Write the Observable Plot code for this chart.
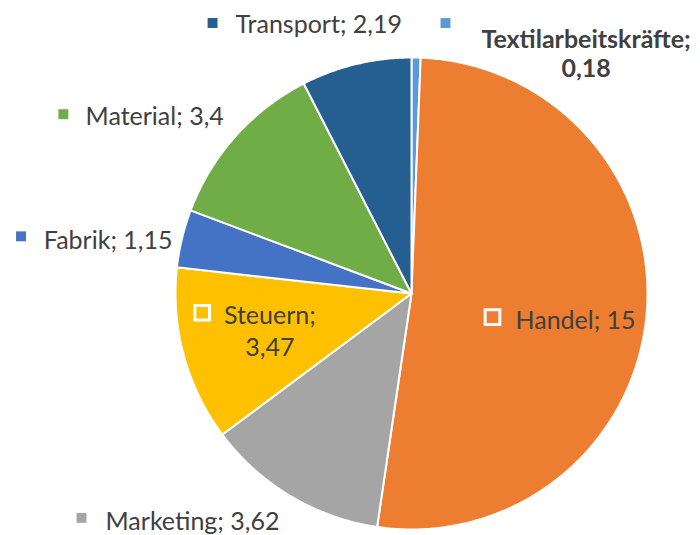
<!DOCTYPE html>
<html>
<head>
<meta charset="utf-8">
<script src="https://cdn.jsdelivr.net/npm/d3@7"></script>
<script src="https://cdn.jsdelivr.net/npm/@observablehq/plot@0.6"></script>
<style>
  html, body { margin: 0; padding: 0; background: #fff; }
  #chart svg { display: block; }
</style>
</head>
<body>
<div id="chart"></div>
<script>
// ---- data ----
const categories = ["Textilarbeitskräfte", "Handel", "Marketing", "Steuern", "Fabrik", "Material", "Transport"];
const values     = [0.18, 15, 3.62, 3.47, 1.15, 3.4, 2.19];
const valueLabels = ["0,18", "15", "3,62", "3,47", "1,15", "3,4", "2,19"];
const colors     = ["#5B9BD5", "#ED7D31", "#A5A5A5", "#FFC000", "#4472C4", "#70AD47", "#255E91"];

// ---- label layout (radius fraction of anchor, pixel offsets of marker and text) ----
const labelLayout = {
  "Textilarbeitskräfte": {r: 1.0, mdx: 29.4, mdy: -34.5, tdx: 170, tdy: -4.5, anchor: "middle", bold: true, lh: 1.16, text: "Textilarbeitskräfte;\n0,18"},
  "Handel":    {r: 0.6, mdx: -60, mdy: 10.6, tdx: -37, tdy: 12.6, anchor: "start", inside: true},
  "Marketing": {r: 1.0, mdx: -209, mdy: 21.7, tdx: -185, tdy: 24, anchor: "start"},
  "Steuern":   {r: 0.6, mdx: -72.6, mdy: -17.8, tdx: -5, tdy: -0.6, anchor: "middle", inside: true, lh: 1.26, text: "Steuern;\n3,47"},
  "Fabrik":    {r: 1.0, mdx: -161, mdy: -2.1, tdx: -138.2, tdy: 0.6, anchor: "start"},
  "Material":  {r: 1.0, mdx: -172, mdy: -22.2, tdx: -149.8, tdy: -20.8, anchor: "start"},
  "Transport": {r: 1.0, mdx: -143.5, mdy: -41.1, tdx: -120.5, tdy: -41, anchor: "start"}
};

// ---- geometry derived from values ----
const total = d3.sum(values);
let acc = 0;
const slices = categories.map((name, i) => {
  const a0 = acc / total * 2 * Math.PI;
  acc += values[i];
  const a1 = acc / total * 2 * Math.PI;
  return {name, value: values[i], label: valueLabels[i], color: colors[i], a0, a1, mid: (a0 + a1) / 2};
});

const polys = [];
for (const s of slices) {
  polys.push({name: s.name, x: 0, y: 0});
  const n = Math.max(2, Math.ceil((s.a1 - s.a0) / (Math.PI / 360)));
  for (let k = 0; k <= n; k++) {
    const a = s.a0 + (s.a1 - s.a0) * k / n;
    polys.push({name: s.name, x: Math.sin(a), y: Math.cos(a)});
  }
  polys.push({name: s.name, x: 0, y: 0});
}

const labels = slices.map(s => {
  const L = labelLayout[s.name];
  return {...s, ...L, x: L.r * Math.sin(s.mid), y: L.r * Math.cos(s.mid),
          txt: L.text || (s.name + "; " + s.label)};
});

const FONT = "Lato, 'Open Sans', sans-serif";
const FS = 25;

const marks = [
  Plot.line(polys, {x: "x", y: "y", z: "name", fill: "name", stroke: "white", strokeWidth: 2, strokeLinejoin: "round"})
];
for (const l of labels) {
  if (l.inside) {
    marks.push(Plot.dot([l], {x: "x", y: "y", dx: l.mdx, dy: l.mdy, symbol: "square", r: 8.3, fill: l.color, stroke: "white", strokeWidth: 3}));
  } else {
    marks.push(Plot.dot([l], {x: "x", y: "y", dx: l.mdx, dy: l.mdy, symbol: "square", r: 5.6, fill: l.color, stroke: "none"}));
  }
  marks.push(Plot.text([l], {x: "x", y: "y", text: "txt", dx: l.tdx, dy: l.tdy, textAnchor: l.anchor,
    lineAnchor: "middle", lineHeight: l.lh || 1.2, fontSize: FS, fontWeight: l.bold ? "bold" : "normal",
    fontFamily: FONT, fill: "#404040"}));
}

const R = 236, CX = 411, CY = 293, W = 700, H = 535;
const chart = Plot.plot({
  width: W, height: H, margin: 0,
  x: {domain: [-CX / R, (W - CX) / R], axis: null},
  y: {domain: [-(H - CY) / R, CY / R], axis: null},
  color: {domain: categories, range: colors},
  style: {fontFamily: FONT, background: "white"},
  marks
});
document.getElementById("chart").appendChild(chart);
</script>
</body>
</html>
